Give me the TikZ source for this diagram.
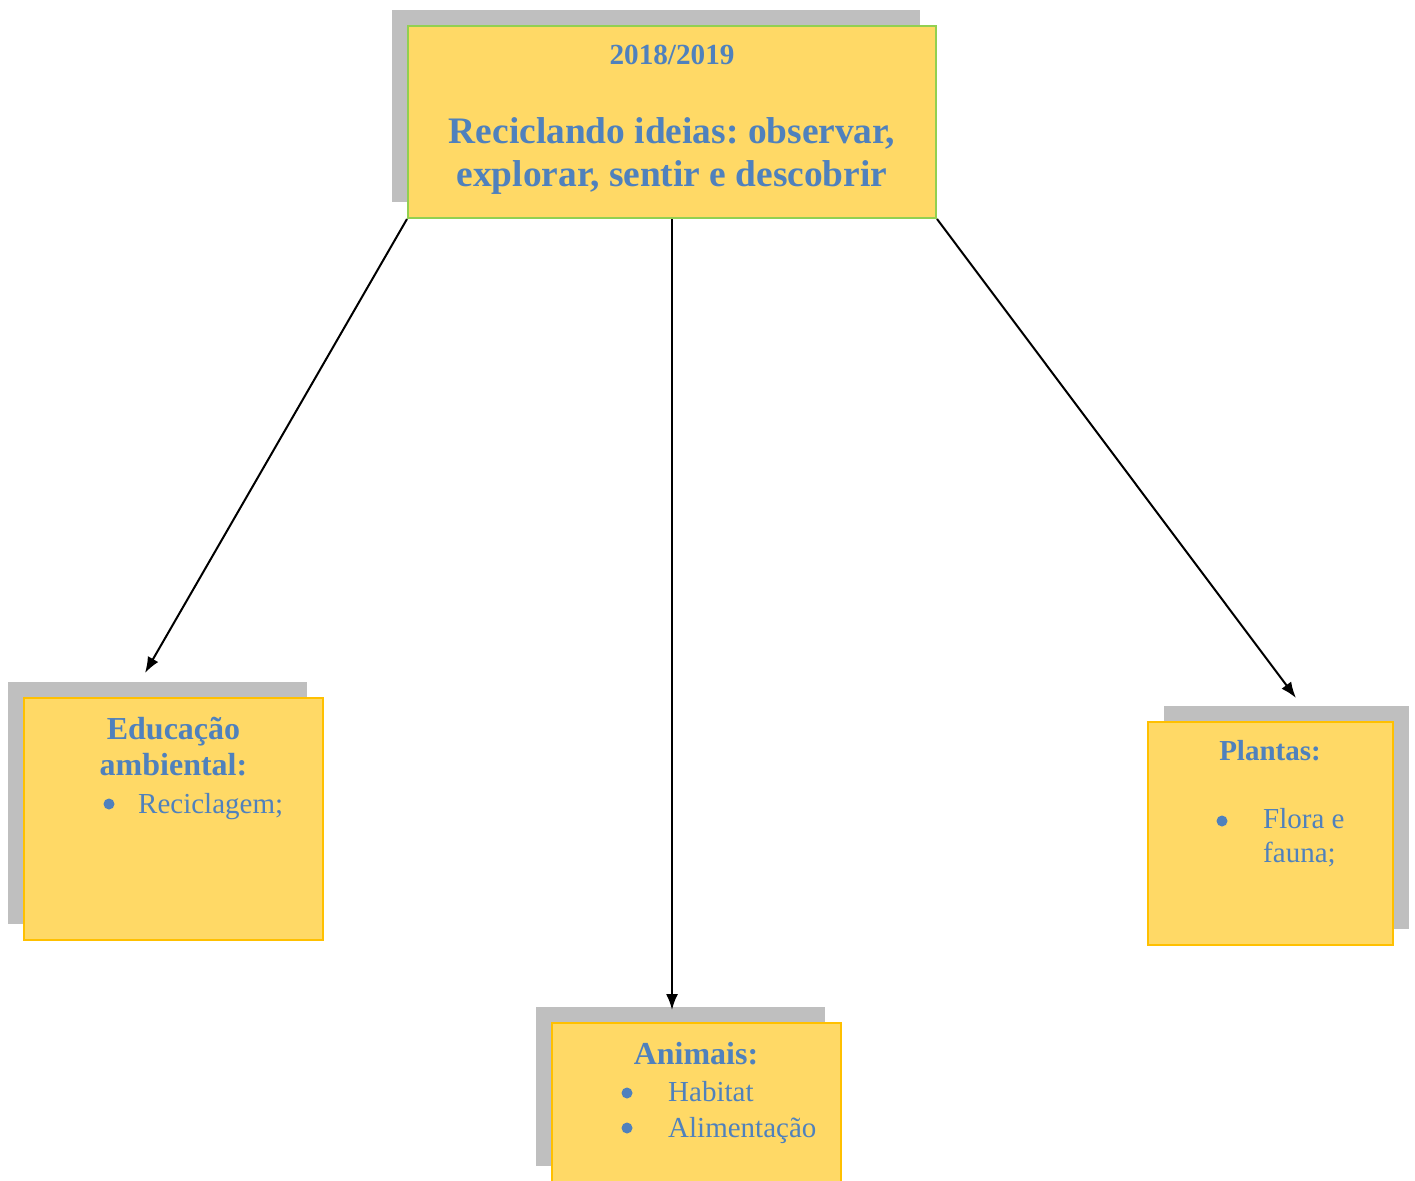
\documentclass[tikz,border=0pt]{standalone}
\usepackage{fontspec}
\setmainfont{Liberation Serif}
\usepackage{xcolor}
\usepackage{tikz}
\usetikzlibrary{positioning}
\usetikzlibrary{arrows.meta,shadows}
\definecolor{boxfill}{HTML}{FFD966}
\definecolor{boxline}{HTML}{FFC000}
\definecolor{topline}{HTML}{92D050}
\definecolor{shadowgray}{HTML}{BFBFBF}
\definecolor{txtblue}{HTML}{4F81BD}
\tikzset{edge/.style = {-{Latex[length=16pt,width=12pt]}, line width=2pt}}
\frenchspacing

\begin{document}
\begin{tikzpicture}[x=1pt,y=-1pt,
    main box/.style={rectangle,draw=boxline,line width=2pt,fill=boxfill,inner sep=0pt},
    shadow left/.style={drop shadow={shadow xshift=-16pt,shadow yshift=16pt,fill=shadowgray,opacity=1}},
    shadow right/.style={drop shadow={shadow xshift=16pt,shadow yshift=16pt,fill=shadowgray,opacity=1}},
    head/.style={inner sep=0pt,anchor=base,align=center,text=txtblue,font=\bfseries\fontsize{32}{36}\selectfont},
    item/.style={inner sep=0pt,anchor=base west,align=left,text=txtblue,font=\fontsize{29}{34}\selectfont},
    dot/.style={circle,fill=txtblue,inner sep=0pt,minimum size=11pt}]
            \useasboundingbox (0,0) rectangle (1415,1180);

            % boxes
            \node[main box,draw=topline,shadow left,minimum width=528pt,minimum height=192pt] (top) at (672,122) {};
            \node[main box,shadow left,minimum width=299pt,minimum height=242pt] (edu) at (173.5,819) {};
            \node[main box,shadow right,minimum width=245pt,minimum height=223pt] (pla) at (1270.5,833.5) {};
            \node[main box,shadow left,minimum width=289pt,minimum height=159pt] (ani) at (696.5,1102.5) {};

            % texts (base = last line)
            \node[head,font=\bfseries\fontsize{29.2}{33}\selectfont] (year) at (672,65) {2018/2019};
            \node[head,font=\bfseries\fontsize{37.4}{43}\selectfont] (title) at (672,186) {Reciclando ideias: observar,\\explorar, sentir e descobrir};

            \node[head] (eduhead) at (173.5,775) {Educação\\ambiental:};
            \node[dot] (edudot) at (109,804) {};
            \node[item] (edu1) at (138,813) {Reciclagem;};

            \node[head,font=\bfseries\fontsize{29}{34}\selectfont] (plahead) at (1270,760) {Plantas:};
            \node[dot] (pladot) at (1222,821) {};
            \node[item] (pla1) at (1263,862) {Flora e\\fauna;};

            \node[head] (anihead) at (696,1064) {Animais:};
            \node[dot] (anidot1) at (627,1093) {};
            \node[item] (ani1) at (668,1101) {Habitat};
            \node[dot] (anidot2) at (627,1128) {};
            \node[item] (ani2) at (668,1137) {Alimentação};

            % arrows
            \coordinate (eduend) at (145,673);
            \coordinate (aniend) at (672,1010);
            \coordinate (plaend) at (1296,698);
            \draw[edge] (top.south west) -- (eduend);
            \draw[edge] (top.south) -- (aniend);
            \draw[edge] (top.south east) -- (plaend);
        \end{tikzpicture}
\end{document}
